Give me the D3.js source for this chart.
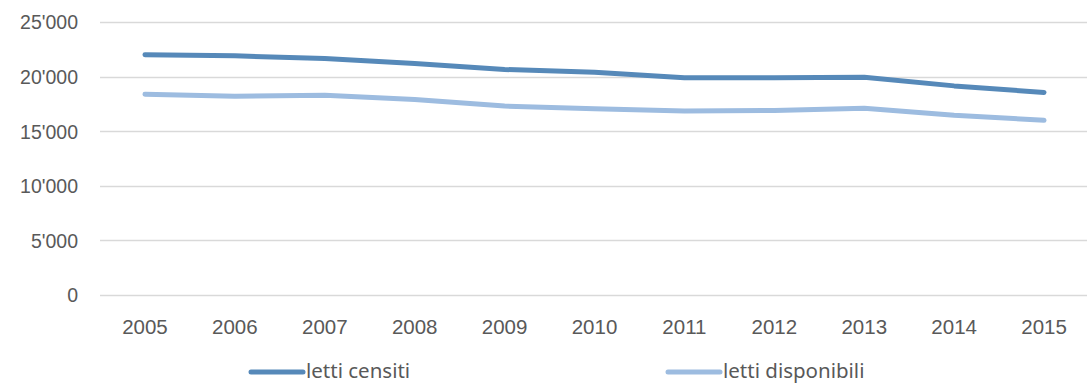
<!DOCTYPE html>
<html>
<head>
<meta charset="utf-8">
<script src="https://cdn.jsdelivr.net/npm/d3@7"></script>
<style>
  html, body { margin: 0; padding: 0; background: #fff; }
  svg { display: block; font-family: "Noto Sans", "Open Sans", sans-serif; }
</style>
</head>
<body>
<svg id="chart" width="1089" height="383"></svg>
<script>
// Posti letto per anno
const years = ["2005","2006","2007","2008","2009","2010","2011","2012","2013","2014","2015"];
const lettiCensiti = [22000, 21900, 21650, 21200, 20650, 20400, 19900, 19900, 19950, 19150, 18550];
const lettiDisponibili = [18380, 18200, 18300, 17900, 17300, 17050, 16850, 16900, 17100, 16450, 16000];
const yTicks = [0, 5000, 10000, 15000, 20000, 25000];
const seriesNames = ["letti censiti", "letti disponibili"];
const seriesColors = ["#5689b9", "#9dbce0"];

const svg = d3.select("#chart");
const margin = { left: 100, right: 0, top: 22, bottom: 88 };
const W = 1089, H = 383;

const x = d3.scaleBand().domain(years).range([margin.left, W - margin.right]).paddingInner(0).paddingOuter(0);
const y = d3.scaleLinear().domain([0, 25000]).range([H - margin.bottom, margin.top]);

const fmt = v => d3.format(",")(v).replace(/,/g, "'");

// griglia orizzontale
svg.append("g")
  .selectAll("line")
  .data(yTicks)
  .join("line")
  .attr("x1", margin.left).attr("x2", W - 2)
  .attr("y1", d => Math.round(y(d)) + 0.5).attr("y2", d => Math.round(y(d)) + 0.5)
  .attr("stroke", "#d9d9d9").attr("stroke-width", 1.5);

// asse y
const yAxis = svg.append("g")
  .attr("transform", `translate(${margin.left - 22},0)`)
  .call(d3.axisLeft(y).tickValues(yTicks).tickFormat(fmt).tickSize(0).tickPadding(0));
yAxis.select(".domain").remove();
yAxis.selectAll("text").attr("fill", "#595959").attr("font-size", 19.5).attr("dy", "0.35em");

// asse x
const xAxis = svg.append("g")
  .attr("transform", `translate(0,${H - margin.bottom})`)
  .call(d3.axisBottom(x).tickSize(0).tickPadding(24));
xAxis.select(".domain").remove();
xAxis.selectAll("text").attr("fill", "#595959").attr("font-size", 20.5);

// linee
const line = d3.line()
  .x((d, i) => x(years[i]) + x.bandwidth() / 2)
  .y(d => y(d));

[lettiCensiti, lettiDisponibili].forEach((vals, k) => {
  svg.append("path")
    .datum(vals)
    .attr("d", line)
    .attr("fill", "none")
    .attr("stroke", seriesColors[k])
    .attr("stroke-width", 5)
    .attr("stroke-linecap", "round")
    .attr("stroke-linejoin", "round");
});

// legenda
const legendX = [251, 668];
const legendY = 372;
seriesNames.forEach((name, k) => {
  const g = svg.append("g").attr("transform", `translate(${legendX[k]},${legendY})`);
  g.append("line")
    .attr("x1", 0).attr("x2", 52).attr("y1", 0).attr("y2", 0)
    .attr("stroke", seriesColors[k]).attr("stroke-width", 5).attr("stroke-linecap", "round");
  g.append("text")
    .attr("x", 55).attr("y", 0).attr("dy", "0.3em")
    .attr("fill", "#595959").attr("font-size", 20.5)
    .text(name);
});
</script>
</body>
</html>
